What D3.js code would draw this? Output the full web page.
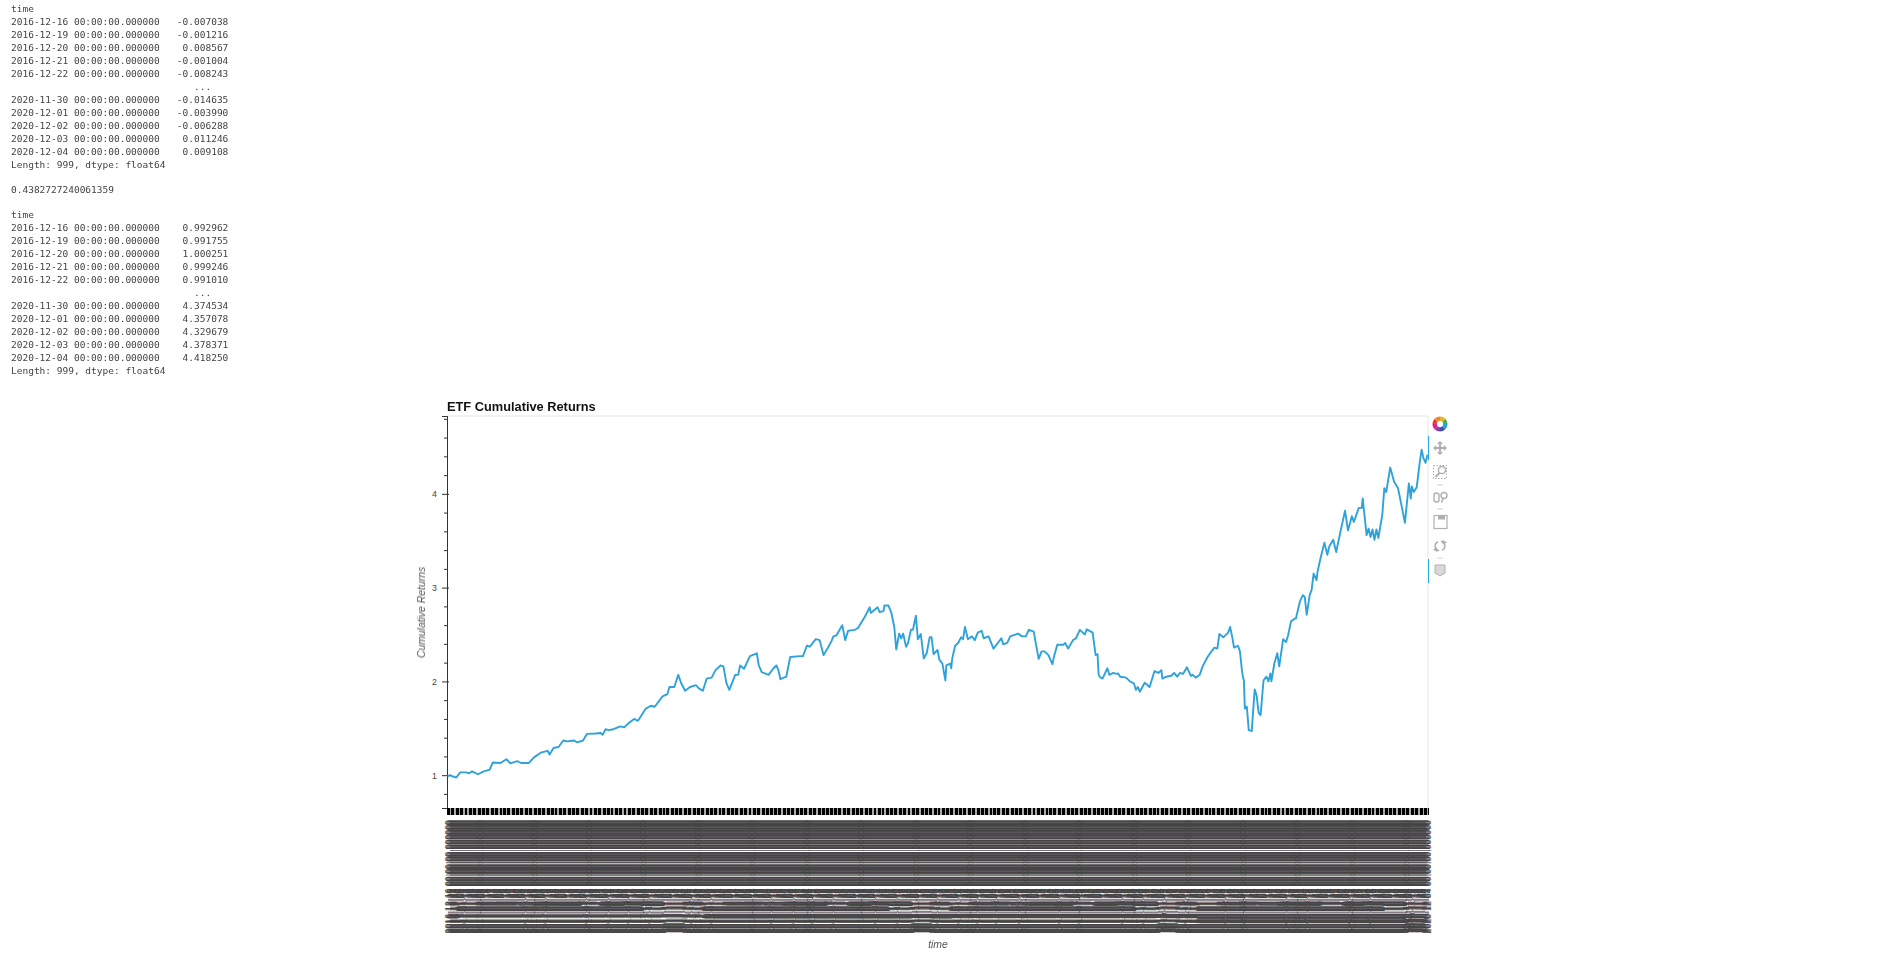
<!DOCTYPE html>
<html>
<head>
<meta charset="utf-8">
<title>ETF Cumulative Returns</title>
<script src="https://d3js.org/d3.v7.min.js"></script>
<style>
  body { margin: 0; background: #fff; }
  svg { display: block; }
  .soft { filter: blur(0.35px); }
  .out text { font-family: "DejaVu Sans Mono", monospace; font-size: 9.5px; fill: #444; white-space: pre; }
  .chart text { font-family: "Liberation Sans", Arial, sans-serif; }
</style>
</head>
<body>
<div id="chart"></div>
<script>
// notebook output printed above the plot
const dailyReturns = [
  "time",
  "2016-12-16 00:00:00.000000   -0.007038",
  "2016-12-19 00:00:00.000000   -0.001216",
  "2016-12-20 00:00:00.000000    0.008567",
  "2016-12-21 00:00:00.000000   -0.001004",
  "2016-12-22 00:00:00.000000   -0.008243",
  "                                ...",
  "2020-11-30 00:00:00.000000   -0.014635",
  "2020-12-01 00:00:00.000000   -0.003990",
  "2020-12-02 00:00:00.000000   -0.006288",
  "2020-12-03 00:00:00.000000    0.011246",
  "2020-12-04 00:00:00.000000    0.009108",
  "Length: 999, dtype: float64"
]
const meanLine = "0.4382727240061359"
const cumulative = [
  "time",
  "2016-12-16 00:00:00.000000    0.992962",
  "2016-12-19 00:00:00.000000    0.991755",
  "2016-12-20 00:00:00.000000    1.000251",
  "2016-12-21 00:00:00.000000    0.999246",
  "2016-12-22 00:00:00.000000    0.991010",
  "                                ...",
  "2020-11-30 00:00:00.000000    4.374534",
  "2020-12-01 00:00:00.000000    4.357078",
  "2020-12-02 00:00:00.000000    4.329679",
  "2020-12-03 00:00:00.000000    4.378371",
  "2020-12-04 00:00:00.000000    4.418250",
  "Length: 999, dtype: float64"
]

// market holidays, the x axis has one category per trading day
const holidays = [
  "2016-12-26",
  "2017-01-02","2017-01-16","2017-02-20","2017-04-14","2017-05-29","2017-07-04","2017-09-04","2017-11-23","2017-12-25",
  "2018-01-01","2018-01-15","2018-02-19","2018-03-30","2018-05-28","2018-07-04","2018-09-03","2018-11-22","2018-12-05","2018-12-25",
  "2019-01-01","2019-01-21","2019-02-18","2019-04-19","2019-05-27","2019-07-04","2019-09-02","2019-11-28","2019-12-25",
  "2020-01-01","2020-01-20","2020-02-17","2020-04-10","2020-05-25","2020-07-03","2020-09-07","2020-11-26"
]

// values: trading day number and cumulative return
const lineDays = [
  0,1,2,3,4,9,13,19,22,25,31,37,43,46,54,60,64,71,75,83,88,95,102,104,108,113,118,122,129,132,138,142,151,156,158,161,164,169,176,180,
  185,190,194,202,207,211,219,224,226,231,235,238,242,247,253,256,260,264,269,273,278,281,284,287,293,296,298,302,308,315,317,320,327,332,335,337,339,345,349,
  359,362,366,369,375,379,383,388,391,393,396,402,405,408,415,418,425,430,431,438,440,444,445,449,452,455,457,460,462,464,467,469,472,474,477,479,482,485,488,491,493,495,499,501,504,507,508,512,513,514,517,520,523,525,527,530,534,537,540,544,546,551,556,559,564,566,570,573,581,585,589,592,597,599,602,605,608,612,616,618,621,627,629,632,637,640,644,649,651,657,660,662,663,664,
  667,672,674,678,681,683,685,691,695,699,701,703,705,710,715,720,724,727,728,732,737,740,743,746,749,753,757,759,762,766,769,774,778,781,784,786,790,795,797,799,801,805,807,809,810,811,812,814,816,819,822,824,826,828,831,834,836,838,839,842,845,847,851,854,856,859,863,864,868,
  871,873,875,878,880,882,885,886,889,893,896,898,902,905,908,914,917,921,923,928,931,932,936,938,940,942,944,946,948,952,954,956,960,964,968,972,975,979,981,982,984,987,990,992,994,995,996,997,998
]
const lineValues = [
  0.993,0.992,1.000,0.999,0.991,0.975,1.03,1.03,1.02,1.04,1.01,1.04,1.06,1.135,1.13,1.17,1.125,1.15,1.13,1.13,1.19,1.24,1.26,1.22,1.29,1.30,1.37,1.36,1.37,1.35,1.37,1.44,1.445,1.45,1.43,1.49,1.48,1.49,1.52,1.51,
  1.56,1.60,1.58,1.71,1.74,1.73,1.84,1.865,1.94,1.94,2.07,1.98,1.90,1.94,1.96,1.925,1.90,2.03,2.04,2.12,2.17,2.16,1.985,1.91,2.07,2.07,2.17,2.135,2.27,2.30,2.17,2.10,2.07,2.14,2.17,2.12,2.025,2.05,2.26,
  2.27,2.27,2.38,2.37,2.45,2.44,2.28,2.37,2.43,2.48,2.49,2.60,2.44,2.54,2.55,2.57,2.69,2.79,2.73,2.79,2.74,2.75,2.81,2.81,2.73,2.58,2.34,2.51,2.46,2.51,2.37,2.41,2.55,2.55,2.70,2.45,2.505,2.245,2.30,2.47,2.47,2.29,2.335,2.23,2.19,2.01,2.17,2.19,2.14,2.245,2.38,2.41,2.47,2.45,2.58,2.45,2.48,2.44,2.52,2.54,2.46,2.48,2.35,2.39,2.46,2.395,2.41,2.48,2.51,2.48,2.48,2.55,2.53,2.41,2.24,2.32,2.32,2.28,2.185,2.28,2.39,2.39,2.41,2.35,2.44,2.46,2.55,2.50,2.555,2.52,2.28,2.29,2.085,2.05,
  2.03,2.14,2.07,2.09,2.08,2.085,2.05,2.04,2.00,1.98,1.91,1.94,1.89,1.985,1.94,2.11,2.09,2.12,2.03,2.05,2.06,2.09,2.05,2.09,2.08,2.15,2.06,2.07,2.04,2.07,2.16,2.26,2.32,2.36,2.35,2.505,2.47,2.52,2.58,2.48,2.36,2.38,2.32,2.12,2.05,2.01,1.71,1.73,1.48,1.47,1.915,1.85,1.665,1.64,2.01,2.05,2.00,2.085,2.00,2.19,2.30,2.16,2.45,2.42,2.49,2.64,2.67,2.67,2.85,
  2.92,2.90,2.71,2.92,2.975,3.15,3.08,3.17,3.31,3.48,3.35,3.44,3.51,3.38,3.53,3.82,3.61,3.76,3.70,3.85,3.85,3.95,3.56,3.63,3.54,3.62,3.51,3.62,3.53,3.78,4.06,4.02,4.28,4.13,4.06,3.85,3.69,4.11,3.95,4.08,4.02,4.07,4.33,4.47,4.375,4.357,4.330,4.378,4.418
]

const yMajor = [1, 2, 3, 4]
const yMinor = [0.8, 1.2, 1.4, 1.6, 1.8, 2.2, 2.4, 2.6, 2.8, 3.2, 3.4, 3.6, 3.8, 4.2, 4.4, 4.6, 4.8]

const width = 1885, height = 957
const plot = {left: 447, right: 1428, top: 416, bottom: 808}

const svg = d3.select("#chart").append("svg")
  .attr("width", width)
  .attr("height", height)

// printed output
const out = svg.append("g").attr("class", "out soft")
const printLines = [...dailyReturns.map((t, i) => ({t: t, y: 12 + i * 13})),
  {t: meanLine, y: 193},
  ...cumulative.map((t, i) => ({t: t, y: 218 + i * 13}))]
out.selectAll("text").data(printLines).join("text")
  .attr("x", 11)
  .attr("y", d => d.y)
  .text(d => d.t)

// one category per trading day
const parseDay = d3.utcParse("%Y-%m-%d")
const skip = new Set(holidays)
const fmtDay = d3.utcFormat("%Y-%m-%d")
const days = d3.utcDay.range(parseDay("2016-12-16"), parseDay("2020-12-05"))
  .filter(d => d.getUTCDay() % 6 !== 0 && !skip.has(fmtDay(d)))

const x = d3.scalePoint().domain(days).range([plot.left, plot.right]).padding(0.5)
const y = d3.scaleLinear().domain([0.65, 4.83]).range([plot.bottom, plot.top])

const chart = svg.append("g").attr("class", "chart")

// plot outline
chart.append("path")
  .attr("d", `M${plot.left},${plot.top}H${plot.right}V${plot.bottom}`)
  .attr("fill", "none")
  .attr("stroke", "#e5e5e5")

// y axis, minor ticks first
const yMinorAxis = chart.append("g")
  .attr("transform", `translate(${plot.left},0)`)
  .call(d3.axisLeft(y).tickValues(yMinor).tickSize(3).tickFormat(""))
const yAxis = chart.append("g")
  .attr("transform", `translate(${plot.left},0)`)
  .call(d3.axisLeft(y).tickValues(yMajor).tickSize(5).tickPadding(5).tickFormat(d3.format("d")))
yAxis.selectAll("text").style("font-size", "8.8px").style("fill", "#444")
yMinorAxis.selectAll("line").attr("stroke", "#333")
yAxis.selectAll("line").attr("stroke", "#333").attr("x2", 2).attr("x1", -5)
chart.selectAll(".domain").attr("stroke", "#333")

// x axis, every single trading day gets a tick and a label
const xAxis = chart.append("g")
  .attr("transform", `translate(0,${plot.bottom})`)
  .call(d3.axisBottom(x).tickSize(7).tickPadding(0).tickFormat(d3.utcFormat("%Y-%m-%d %H:%M:%S.%f")))
xAxis.select(".domain").remove()
// the ticks are closer than a pixel, in the screenshot they beat into little blocks
xAxis.selectAll("line")
  .attr("stroke", d => ((x(d) - plot.left) % 4.3) < 2.9 ? "#000" : "#aaa")
  .attr("stroke-width", 1)
  .attr("shape-rendering", "crispEdges")
xAxis.selectAll("text")
  .attr("transform", "rotate(-90)")
  .attr("text-anchor", "end")
  .attr("x", -12)
  .attr("y", 0)
  .attr("dy", "0.35em")
  .style("font-size", "8.8px")
  .style("fill", "#444")

// the line
const line = d3.line()
  .x((d, i) => x(days[lineDays[i]]))
  .y(d => y(d))
chart.append("path")
  .datum(lineValues)
  .attr("class", "soft")
  .attr("d", line)
  .attr("fill", "none")
  .attr("stroke", "#30a2da")
  .attr("stroke-width", 1.9)
  .attr("stroke-linejoin", "round")

// titles
chart.append("text")
  .attr("class", "soft")
  .attr("x", plot.left)
  .attr("y", 410.5)
  .style("font-size", "12.8px")
  .style("font-weight", "bold")
  .style("fill", "#111")
  .text("ETF Cumulative Returns")
chart.append("text")
  .attr("class", "soft")
  .attr("transform", `translate(425,612.5) rotate(-90)`)
  .attr("text-anchor", "middle")
  .style("font-size", "10.4px")
  .style("font-style", "italic")
  .style("fill", "#555")
  .text("Cumulative Returns")
chart.append("text")
  .attr("class", "soft")
  .attr("x", 938)
  .attr("y", 948)
  .attr("text-anchor", "middle")
  .style("font-size", "10.4px")
  .style("font-style", "italic")
  .style("fill", "#555")
  .text("time")

// toolbar
const bar = chart.append("g").attr("class", "soft")
const grey = "#b0b0b0"
const logoColors = ["#e8b32a", "#4cae4f", "#27a5d8", "#3f51b5", "#8e3fa0", "#e0218a", "#e8412f", "#f08a24"]
const arc = d3.arc().innerRadius(3.2).outerRadius(7.6)
bar.append("g").attr("transform", "translate(1440,424)")
  .selectAll("path")
  .data(d3.pie().value(1).sort(null)(logoColors))
  .join("path")
  .attr("d", arc)
  .attr("fill", d => d.data)
// pan
bar.append("path").attr("transform", "translate(1440,448)")
  .attr("d", "M-6,0H6M0,-6V6")
  .attr("stroke", grey).attr("stroke-width", 2.2)
bar.append("path").attr("transform", "translate(1440,448)")
  .attr("d", "M-7,0L-4,-3V3ZM7,0L4,-3V3ZM0,-7L-3,-4H3ZM0,7L-3,4H3Z")
  .attr("fill", grey)
// box zoom
bar.append("rect").attr("x", 1433.5).attr("y", 465.5).attr("width", 13).attr("height", 13)
  .attr("fill", "none").attr("stroke", grey).attr("stroke-dasharray", "1.5,1.5")
bar.append("circle").attr("cx", 1442).attr("cy", 470).attr("r", 3.6)
  .attr("fill", "#fff").attr("stroke", grey).attr("stroke-width", 1.5)
bar.append("path").attr("d", "M1439.5,473L1435.5,477")
  .attr("stroke", grey).attr("stroke-width", 2)
// wheel zoom
bar.append("rect").attr("x", 1434).attr("y", 493).attr("width", 5).attr("height", 9).attr("rx", 2.5)
  .attr("fill", "none").attr("stroke", grey).attr("stroke-width", 1.4)
bar.append("circle").attr("cx", 1444).attr("cy", 495.5).attr("r", 3)
  .attr("fill", "none").attr("stroke", grey).attr("stroke-width", 1.4)
bar.append("path").attr("d", "M1443,498.5L1441.5,502.5")
  .attr("stroke", grey).attr("stroke-width", 1.6)
// save
bar.append("rect").attr("x", 1434).attr("y", 515.5).attr("width", 13).attr("height", 13)
  .attr("fill", "none").attr("stroke", grey).attr("stroke-width", 1.2)
bar.append("rect").attr("x", 1438).attr("y", 516).attr("width", 7).attr("height", 3.5).attr("fill", grey)
// reset, two arcs with arrow heads
bar.append("g").attr("transform", "translate(1440,546)")
  .selectAll("path")
  .data([[0.2, 2.7], [3.34, 5.84]])
  .join("path")
  .attr("d", d => d3.arc().innerRadius(4).outerRadius(5.6).startAngle(d[0]).endAngle(d[1])())
  .attr("fill", grey)
bar.append("path").attr("transform", "translate(1440,546)")
  .attr("d", "M3,-6L7,-3.5L2.5,-1.5ZM-3,6L-7,3.5L-2.5,1.5Z")
  .attr("fill", grey)
// hover
bar.append("path")
  .attr("d", "M1435,565H1445V573L1440,576L1435,573Z")
  .attr("fill", "#d8d8d8").attr("stroke", grey)
// little separators between the tool groups
bar.selectAll(".sep").data([485, 509, 558]).join("path")
  .attr("class", "sep")
  .attr("d", d => `M1437,${d}H1443`)
  .attr("stroke", "#cfcfcf")
// active tool markers
bar.selectAll(".active").data([[436, 460], [559, 583]]).join("path")
  .attr("class", "active")
  .attr("d", d => `M1428.5,${d[0]}V${d[1]}`)
  .attr("stroke", "#26aae1")
  .attr("stroke-width", 1)
</script>
</body>
</html>
